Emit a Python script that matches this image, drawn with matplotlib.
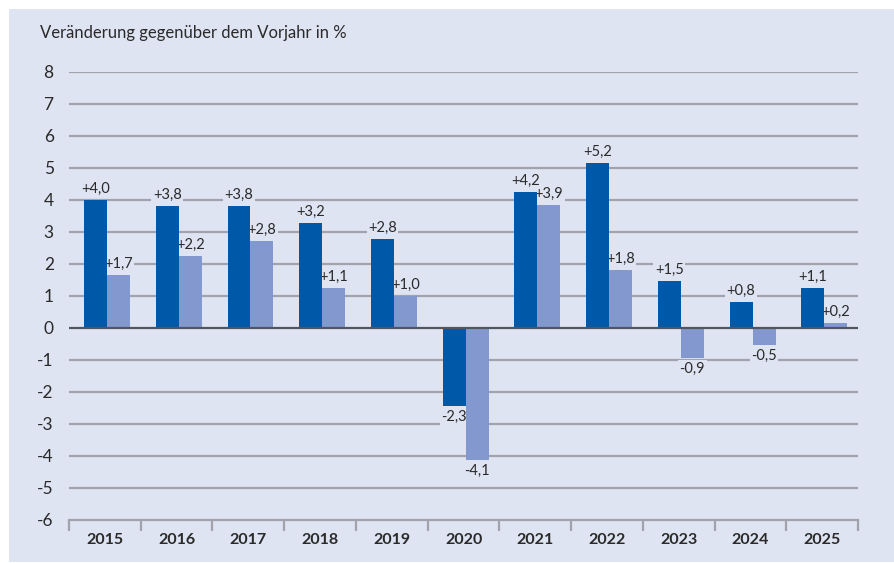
import matplotlib
matplotlib.use("Agg")
import matplotlib.pyplot as plt
from matplotlib.patches import Rectangle
import numpy as np

years = ["2015", "2016", "2017", "2018", "2019", "2020", "2021", "2022", "2023", "2024", "2025"]
dark_values = [4.0, 3.81, 3.8, 3.28, 2.78, -2.44, 4.25, 5.16, 1.47, 0.81, 1.25]
light_values = [1.66, 2.25, 2.72, 1.25, 1.0, -4.13, 3.84, 1.81, -0.93, -0.52, 0.16]
dark_labels = ["+4,0", "+3,8", "+3,8", "+3,2", "+2,8", "-2,3", "+4,2", "+5,2", "+1,5", "+0,8", "+1,1"]
light_labels = ["+1,7", "+2,2", "+2,8", "+1,1", "+1,0", "-4,1", "+3,9", "+1,8", "-0,9", "-0,5", "+0,2"]
y_ticks = [-6, -5, -4, -3, -2, -1, 0, 1, 2, 3, 4, 5, 6, 7, 8]
title = "Veränderung gegenüber dem Vorjahr in %"

BG = "#DFE4F2"
DARK = "#0058A8"
LIGHT = "#8398CF"
GRID = "#A0A3AC"
TEXT = "#2A2A2A"

plt.rcParams['font.family'] = ['Lato', 'DejaVu Sans']

W, H = 894, 563
fig = plt.figure(figsize=(W / 100, H / 100), dpi=100)
fig.patch.set_facecolor("white")
fig.add_artist(Rectangle((9 / W, 1 / H), 1 - 9 / W, 1 - 10 / H, transform=fig.transFigure,
                         facecolor=BG, edgecolor="none", zorder=0))

left, right = 69 / W, 858 / W
bottom, top = 1 - 520 / H, 1 - 72 / H
ax = fig.add_axes([left, bottom, right - left, top - bottom])
ax.set_facecolor("none")

n = len(years)
x = np.arange(n)
bw = 0.32
off = 0.03
ax.set_xlim(-0.5, n - 0.5)
ax.set_ylim(-6, 8)

for t in y_ticks:
    if t in (-6, 0):
        continue
    ax.axhline(t, color=GRID, lw=1.6, zorder=1)

ax.bar(x - bw / 2 + off, dark_values, width=bw, color=DARK, zorder=3)
ax.bar(x + bw / 2 + off, light_values, width=bw, color=LIGHT, zorder=3)
ax.axhline(0, color="#505560", lw=1.6, zorder=4)

def label(xs, vals, labs):
    for xi, v, s in zip(xs, vals, labs):
        up = v >= 0
        ax.annotate(s, (xi, v), xytext=(0, 3 if up else -3), textcoords="offset points",
                    ha="center", va="bottom" if up else "top", fontsize=10.5, color=TEXT, zorder=2,
                    bbox=dict(boxstyle="square,pad=0.1", fc=BG, ec="none"))

label(x - bw / 2 + off, dark_values, dark_labels)
label(x + bw / 2 + off, light_values, light_labels)

for s in ["top", "right", "left"]:
    ax.spines[s].set_visible(False)
ax.spines["bottom"].set_color(GRID)
ax.spines["bottom"].set_linewidth(1.6)

ax.set_yticks(y_ticks)
ax.set_yticklabels([str(t) for t in y_ticks], fontsize=12.5, color=TEXT)
ax.tick_params(axis="y", length=0, pad=11)

ax.set_xticks(x)
ax.set_xticklabels(years, fontsize=11.5, fontweight="bold", color=TEXT)
ax.set_xticks(np.arange(-0.5, n, 1.0), minor=True)
ax.tick_params(axis="x", which="major", length=0, pad=9)
ax.tick_params(axis="x", which="minor", length=8, width=1.6, color=GRID)

fig.text(40 / W, 1 - 33 / H, title, fontsize=12, color=TEXT, ha="left", va="center")

fig.savefig("out.png", dpi=100, facecolor=fig.get_facecolor())
